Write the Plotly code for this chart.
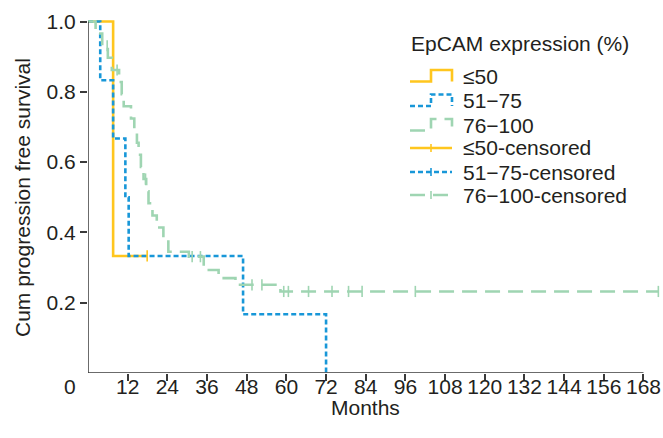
import plotly.graph_objects as go

# ---------------- data ----------------
le50_t = [0, 7.6, 17.9]
le50_s = [1.0, 0.333, 0.333]
le50_cens_t = [17.9]
le50_cens_s = [0.333]

m51_t = [0, 3.7, 7.6, 11.3, 12.3, 46.9, 72.0]
m51_s = [1.0, 0.833, 0.667, 0.5, 0.333, 0.167, 0.0]

g76_t = [0, 2.3, 4.3, 6.0, 7.2, 9.4, 10.2, 10.8, 13.0, 14.0, 14.8, 15.3, 16.0,
         16.8, 17.6, 18.3, 19.5, 20.8, 22.8, 24.3, 30.5, 35.0, 39.5, 44.6, 58.2, 172.5]
g76_s = [1.0, 0.966, 0.931, 0.897, 0.862, 0.828, 0.793, 0.759, 0.724, 0.690, 0.655,
         0.621, 0.586, 0.552, 0.517, 0.483, 0.448, 0.414, 0.379, 0.345, 0.331, 0.293,
         0.270, 0.251, 0.232, 0.232]
g76_cens_t = [5.8, 8.8, 17.4, 31.5, 34.0, 49.6, 52.6, 59.2, 60.6, 66.7, 73.8, 78.8, 82.9, 99.0, 172.5]
g76_cens_s = [0.931, 0.862, 0.552, 0.331, 0.331, 0.251, 0.251, 0.232, 0.232, 0.232, 0.232,
              0.232, 0.232, 0.232, 0.232]

x_ticks = [12, 24, 36, 48, 60, 72, 84, 96, 108, 120, 132, 144, 156, 168]
y_ticks = [0.2, 0.4, 0.6, 0.8, 1.0]
y_tick_text = ["0.2", "0.4", "0.6", "0.8", "1.0"]

names = ["≤50", "51−75", "76−100"]
legend_title = "EpCAM expression (%)"

# ---------------- style ----------------
YEL = "#FFC61E"
BLU = "#1897D8"
GRN = "#9FD5B2"
AX = "#3a3a3a"
TXT = "#231F20"
FONT = "Liberation Sans, Arial, sans-serif"
FS = 21
W = 2.6
DASHES = ["solid", "5px,3px", "15px,8px"]
COLORS = [YEL, BLU, GRN]

# layout geometry (pixels)
WID, HEI = 663, 438
ML, MR, MT, MB = 88, 3, 18, 65
PW, PH = WID - ML - MR, HEI - MT - MB


def px(xp):
    return (xp - ML) / PW


def py(yp):
    return 1 - (yp - MT) / PH


fig = go.Figure()

fig.add_trace(go.Scatter(x=le50_t, y=le50_s, mode="lines", line_shape="hv",
                         line=dict(color=YEL, width=W), name=names[0]))
fig.add_trace(go.Scatter(x=m51_t, y=m51_s, mode="lines", line_shape="hv",
                         line=dict(color=BLU, width=W, dash=DASHES[1]), name=names[1]))
fig.add_trace(go.Scatter(x=g76_t, y=g76_s, mode="lines", line_shape="hv",
                         line=dict(color=GRN, width=W, dash=DASHES[2]), name=names[2]))

# censor marks
for ct, cs, col, nm in [(le50_cens_t, le50_cens_s, YEL, names[0]),
                        (g76_cens_t, g76_cens_s, GRN, names[2])]:
    fig.add_trace(go.Scatter(x=ct, y=cs, mode="markers", name=nm + "-censored",
                             marker=dict(symbol="line-ns-open", size=8, color=col,
                                         line=dict(color=col, width=1.6)),
                             cliponaxis=False))

shapes = []
# axis lines
shapes.append(dict(type="line", xref="x", yref="y", x0=0, x1=0, y0=0, y1=1.0,
                   line=dict(color=AX, width=1.5)))
shapes.append(dict(type="line", xref="x", yref="y", x0=0, x1=168, y0=0, y1=0,
                   line=dict(color=AX, width=1.5)))

annotations = [
    dict(text="Months", xref="x", yref="paper", x=84, y=py(407),
         showarrow=False, xanchor="center", yanchor="middle",
         font=dict(size=FS, family=FONT, color=TXT)),
    dict(text="Cum progression free survival", xref="paper", yref="paper",
         x=px(22), y=py(198), textangle=-90, showarrow=False,
         xanchor="center", yanchor="middle",
         font=dict(size=FS, family=FONT, color=TXT)),
    dict(text="0", xref="paper", yref="paper", x=px(78), y=py(386),
         showarrow=False, xanchor="right", yanchor="middle",
         font=dict(size=FS, family=FONT, color=TXT)),
    dict(text=legend_title, xref="paper", yref="paper", x=px(409), y=py(43.5),
         showarrow=False, xanchor="left", yanchor="middle",
         font=dict(size=FS, family=FONT, color=TXT)),
]

# custom legend (matches the reference's step icons and tight spacing)
ICON_X0, ICON_XM, ICON_X1, TEXT_X = 410, 431, 452, 461
rows = [76, 100.5, 125, 148, 172, 195]
labels = names + [n + "-censored" for n in names]
for i, (yc, lab) in enumerate(zip(rows, labels)):
    col = COLORS[i % 3]
    dash = DASHES[i % 3]
    if i < 3:
        yb, yt = yc + 5.5, yc - 6
        path = (f"M {px(ICON_X0)},{py(yb)} L {px(ICON_XM)},{py(yb)} "
                f"L {px(ICON_XM)},{py(yt)} L {px(ICON_X1)},{py(yt)} L {px(ICON_X1)},{py(yb)}")
        shapes.append(dict(type="path", xref="paper", yref="paper", path=path,
                           line=dict(color=col, width=W, dash=dash)))
    else:
        shapes.append(dict(type="line", xref="paper", yref="paper",
                           x0=px(ICON_X0), x1=px(ICON_X1), y0=py(yc), y1=py(yc),
                           line=dict(color=col, width=W, dash=dash)))
        shapes.append(dict(type="line", xref="paper", yref="paper",
                           x0=px(ICON_XM), x1=px(ICON_XM), y0=py(yc - 4), y1=py(yc + 4),
                           line=dict(color=col, width=1.6)))
    annotations.append(dict(text=lab, xref="paper", yref="paper", x=px(TEXT_X), y=py(yc),
                            showarrow=False, xanchor="left", yanchor="middle",
                            font=dict(size=FS, family=FONT, color=TXT)))

fig.update_layout(
    width=WID, height=HEI,
    margin=dict(l=ML, r=MR, t=MT, b=MB, autoexpand=False),
    paper_bgcolor="white", plot_bgcolor="white",
    font=dict(family=FONT, size=FS, color=TXT),
    showlegend=False,
    xaxis=dict(range=[0, 173], tickvals=x_ticks, ticks="outside", ticklen=7,
               tickwidth=1.5, tickcolor=AX, showgrid=False, zeroline=False,
               showline=False, automargin=False, ticklabelstandoff=-12,
               tickfont=dict(size=FS, family=FONT, color=TXT)),
    yaxis=dict(range=[0, 1.01], tickvals=y_ticks, ticktext=y_tick_text,
               ticks="outside", ticklen=7, tickwidth=1.5, tickcolor=AX,
               showgrid=False, zeroline=False, showline=False, automargin=False,
               tickfont=dict(size=FS, family=FONT, color=TXT)),
    shapes=shapes,
    annotations=annotations,
)

fig.write_html("out.html", config={"displayModeBar": False},
               post_script="document.body.style.margin='0';document.body.style.padding='0';")
